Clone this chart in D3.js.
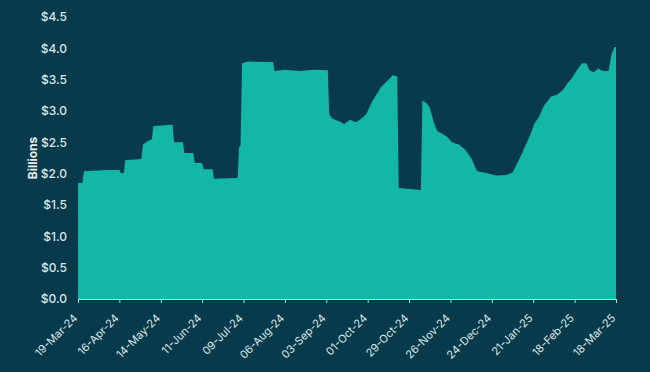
<!DOCTYPE html>
<html>
<head>
<meta charset="utf-8">
<script src="https://cdn.jsdelivr.net/npm/d3@7"></script>
<style>
  html, body { margin: 0; padding: 0; background: #073a4b; }
  svg { display: block; }
  text { font-family: Inter, "Open Sans", sans-serif; }
</style>
</head>
<body>
<svg id="chart"></svg>
<script>
// data (billions of dollars)
const dates = [
    "2024-03-19", "2024-03-22", "2024-03-23", "2024-04-08", "2024-04-16", "2024-04-17",
    "2024-04-19", "2024-04-20", "2024-04-30", "2024-05-01", "2024-05-02", "2024-05-06",
    "2024-05-08", "2024-05-09", "2024-05-22", "2024-05-23", "2024-05-29", "2024-05-30",
    "2024-06-05", "2024-06-06", "2024-06-11", "2024-06-12", "2024-06-18", "2024-06-19",
    "2024-07-05", "2024-07-06", "2024-07-07", "2024-07-08", "2024-07-12", "2024-07-29",
    "2024-07-30", "2024-08-06", "2024-08-16", "2024-08-26", "2024-09-04", "2024-09-05",
    "2024-09-07", "2024-09-13", "2024-09-15", "2024-09-19", "2024-09-23", "2024-09-27",
    "2024-09-30", "2024-10-04", "2024-10-10", "2024-10-15", "2024-10-18", "2024-10-21",
    "2024-10-22", "2024-11-06", "2024-11-07", "2024-11-10", "2024-11-12", "2024-11-15",
    "2024-11-17", "2024-11-21", "2024-11-24", "2024-11-27", "2024-12-02", "2024-12-06",
    "2024-12-10", "2024-12-14", "2024-12-20", "2024-12-27", "2025-01-03", "2025-01-07",
    "2025-01-09", "2025-01-13", "2025-01-16", "2025-01-19", "2025-01-22", "2025-01-25",
    "2025-01-28", "2025-02-02", "2025-02-06", "2025-02-10", "2025-02-13", "2025-02-16",
    "2025-02-19", "2025-02-23", "2025-02-26", "2025-02-28", "2025-03-03", "2025-03-06",
    "2025-03-09", "2025-03-13", "2025-03-15", "2025-03-17", "2025-03-18"
];
const values = [
    1.85, 1.85, 2.04, 2.06, 2.06, 2.01,
    2.01, 2.22, 2.23, 2.25, 2.47, 2.53,
    2.55, 2.76, 2.78, 2.50, 2.50, 2.33,
    2.33, 2.17, 2.17, 2.07, 2.07, 1.92,
    1.93, 2.42, 2.45, 3.76, 3.79, 3.78,
    3.64, 3.66, 3.64, 3.66, 3.65, 2.95,
    2.88, 2.82, 2.79, 2.86, 2.82, 2.88,
    2.95, 3.15, 3.38, 3.50, 3.57, 3.55,
    1.77, 1.74, 3.17, 3.12, 3.05, 2.80,
    2.68, 2.63, 2.58, 2.50, 2.46, 2.38,
    2.25, 2.04, 2.01, 1.97, 1.98, 2.02,
    2.11, 2.30, 2.46, 2.62, 2.81, 2.91,
    3.07, 3.23, 3.26, 3.33, 3.44, 3.52,
    3.63, 3.76, 3.76, 3.65, 3.62, 3.68,
    3.64, 3.64, 3.90, 4.02, 4.02
];
const tickDates = [
    "2024-03-19", "2024-04-16", "2024-05-14", "2024-06-11", "2024-07-09", "2024-08-06",
    "2024-09-03", "2024-10-01", "2024-10-29", "2024-11-26", "2024-12-24", "2025-01-21",
    "2025-02-18", "2025-03-18"
];
const yTicks = [0, 0.5, 1, 1.5, 2, 2.5, 3, 3.5, 4, 4.5];

const width = 650, height = 372;
const margin = { top: 17, right: 34, bottom: 73, left: 78 };

const parse = d3.timeParse("%Y-%m-%d");
const data = dates.map((d, i) => ({ date: parse(d), value: values[i] }));

const svg = d3.select("#chart")
    .attr("width", width)
    .attr("height", height);

const x = d3.scaleTime()
    .domain([parse(dates[0]), parse(dates[dates.length - 1])])
    .range([margin.left, width - margin.right]);

const y = d3.scaleLinear()
    .domain([0, 4.5])
    .range([height - margin.bottom, margin.top]);

// area
const area = d3.area()
    .x(d => x(d.date))
    .y0(y(0))
    .y1(d => y(d.value));

svg.append("path")
    .datum(data)
    .attr("d", area)
    .attr("fill", "#13b7a5");

// x axis
const xAxis = svg.append("g")
    .attr("transform", `translate(0,${y(0)})`)
    .call(d3.axisBottom(x)
        .tickValues(tickDates.map(parse))
        .tickFormat(d3.timeFormat("%d-%b-%y"))
        .tickSize(4)
        .tickSizeOuter(0));

xAxis.select(".domain").attr("stroke", "#b9d6d8");
xAxis.selectAll(".tick line").attr("stroke", "#b9d6d8");
xAxis.selectAll(".tick text")
    .attr("fill", "#dbe6e8")
    .attr("font-size", 11)
    .attr("text-anchor", "end")
    .attr("x", 0)
    .attr("y", 0)
    .attr("dy", "0.35em")
    .attr("transform", "translate(-3,17) rotate(-45)");

// y axis (labels only)
const yAxis = svg.append("g")
    .attr("transform", `translate(${margin.left},0)`)
    .call(d3.axisLeft(y)
        .tickValues(yTicks)
        .tickFormat(d => "$" + d3.format(".1f")(d))
        .tickSize(0)
        .tickPadding(11));

yAxis.select(".domain").remove();
yAxis.selectAll(".tick text")
    .attr("fill", "#dbe6e8")
    .attr("font-size", 12)
    .attr("font-weight", 500);

svg.append("text")
    .attr("transform", `translate(37,${y(2.25)}) rotate(-90)`)
    .attr("text-anchor", "middle")
    .attr("fill", "#e6eef0")
    .attr("font-size", 12)
    .attr("font-weight", 700)
    .text("Billions");
</script>
</body>
</html>
